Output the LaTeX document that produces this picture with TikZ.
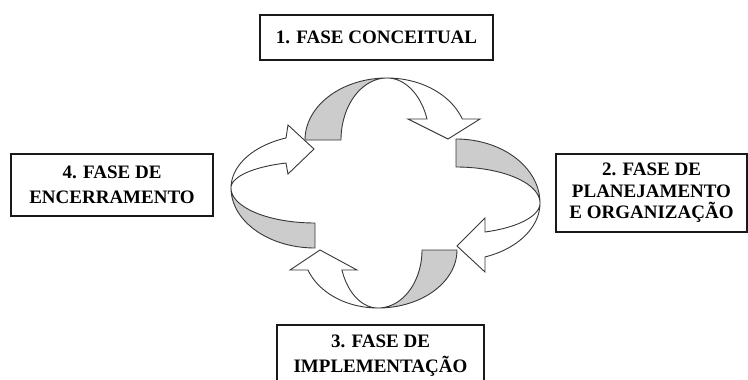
\documentclass[tikz,border=0pt]{standalone}
\usepackage{fontspec}
\setmainfont{Liberation Serif}
\definecolor{bandgrey}{RGB}{204,204,204}
\definecolor{edgegrey}{RGB}{55,55,55}
\begin{document}
\begin{tikzpicture}[x=1pt,y=-1pt,
  phasebox/.style={draw=black!90, line width=1.2pt, align=center, inner sep=0pt},
  phasefont/.style={font=\bfseries\fontsize{19}{#1}\selectfont},
  backband/.style={fill=bandgrey, draw=edgegrey, line width=0.9pt, line join=round},
  frontarrow/.style={fill=white, draw=edgegrey, line width=0.9pt, line join=miter}]
\useasboundingbox (0,0) rectangle (748,380);
\clip (0,0) rectangle (748,380);

% ---- phase boxes ----
\node[phasebox, phasefont=22, minimum width=233pt, minimum height=45pt] (f1) at (376.5,37.5) {1. FASE CONCEITUAL};
\node[phasebox, phasefont=21.5, minimum width=191pt, minimum height=78pt] (f2) at (651.5,193) {2. FASE DE\\PLANEJAMENTO\\E ORGANIZAÇÃO};
\node[phasebox, phasefont=25, minimum width=207pt, minimum height=61pt] (f3) at (380.5,355.5) {3. FASE DE\\IMPLEMENTAÇÃO};
\node[phasebox, phasefont=24.5, minimum width=202pt, minimum height=62pt] (f4) at (112,185) {4. FASE DE\\ENCERRAMENTO};

% ---- back (grey) faces of the curved arrows ----
% top
\draw[backband]
  plot[domain=180:270, samples=40, variable=\t] ({387+82*cos(\t)},{140+62*sin(\t)})
  -- plot[domain=270:180, samples=40, variable=\t] ({387+46*cos(\t)},{140+62*sin(\t)})
  -- cycle;
% left
\draw[backband]
  plot[domain=90:180, samples=40, variable=\t] ({315+84*cos(\t)},{188+60*sin(\t)})
  -- plot[domain=180:90, samples=40, variable=\t] ({315+84*cos(\t)},{188+35*sin(\t)})
  -- cycle;
% right
\draw[backband]
  plot[domain=270:360, samples=40, variable=\t] ({456+84*cos(\t)},{203+64*sin(\t)})
  -- plot[domain=360:270, samples=40, variable=\t] ({456+84*cos(\t)},{203+36*sin(\t)})
  -- cycle;
% bottom
\draw[backband]
  plot[domain=0:90, samples=40, variable=\t] ({378+79*cos(\t)},{250+58*sin(\t)})
  -- plot[domain=90:0, samples=40, variable=\t] ({378+44*cos(\t)},{250+58*sin(\t)})
  -- cycle;

% ---- front (white) faces with arrow heads ----
% top, pointing down towards phase 2
\draw[frontarrow]
  plot[domain=270:340.2, samples=40, variable=\t] ({387+80*cos(\t)},{140+62*sin(\t)})
  -- (480,119) -- (448,139) -- (408,119)
  -- plot[domain=340.2:270, samples=40, variable=\t] ({387+42.5*cos(\t)},{140+62*sin(\t)})
  -- cycle;
% left, pointing right towards phase 1
\draw[frontarrow]
  plot[domain=180:249.8, samples=40, variable=\t] ({315+84*cos(\t)},{188+53.3*sin(\t)})
  -- (288,125) -- (314,149) -- (288,174)
  -- plot[domain=249.8:180, samples=40, variable=\t] ({315+84*cos(\t)},{188+26.6*sin(\t)})
  -- cycle;
% right, pointing left towards phase 3
\draw[frontarrow]
  plot[domain=0:69.8, samples=40, variable=\t] ({456+84*cos(\t)},{203+57.5*sin(\t)})
  -- (485,272) -- (457,246) -- (485,218)
  -- plot[domain=69.8:0, samples=40, variable=\t] ({456+84*cos(\t)},{203+30.9*sin(\t)})
  -- cycle;
% bottom, pointing up towards phase 4
\draw[frontarrow]
  plot[domain=90:159.8, samples=40, variable=\t] ({378+74.6*cos(\t)},{250+58*sin(\t)})
  -- (290,270) -- (320,250) -- (357,270)
  -- plot[domain=159.8:90, samples=40, variable=\t] ({378+38.4*cos(\t)},{250+58*sin(\t)})
  -- cycle;
\end{tikzpicture}
\end{document}
